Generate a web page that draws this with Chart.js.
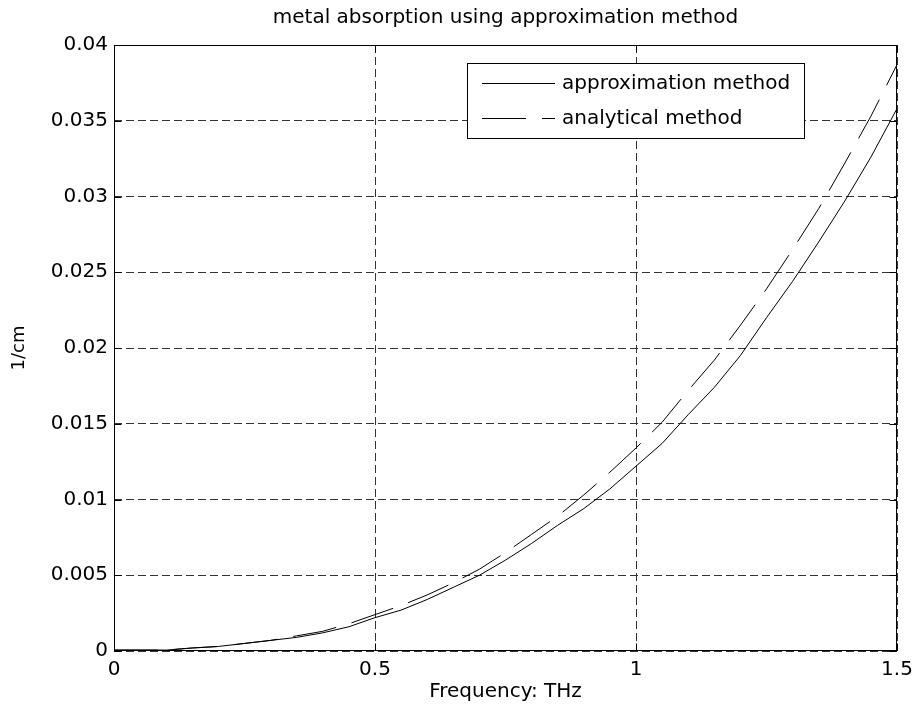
<!DOCTYPE html>
<html>
<head>
<meta charset="utf-8">
<title>metal absorption using approximation method</title>
<script src="https://cdn.jsdelivr.net/npm/chart.js@4.4.0/dist/chart.umd.min.js"></script>
<style>
  html, body { margin: 0; padding: 0; background: #ffffff; }
  canvas { display: block; }
</style>
</head>
<body>
<canvas id="chart" width="917" height="714"></canvas>
<script>
// Frequency grid (THz)
const frequency = [
  0.00, 0.05, 0.10, 0.15, 0.20, 0.25, 0.30, 0.35, 0.40, 0.45,
  0.50, 0.55, 0.60, 0.65, 0.70, 0.75, 0.80, 0.85, 0.90, 0.95,
  1.00, 1.05, 1.10, 1.15, 1.20, 1.25, 1.30, 1.35, 1.40, 1.45, 1.50
];

// Absorption (1/cm), approximation method
const approximation = [
  0.00006, 0.00006, 0.00006, 0.0002, 0.0003, 0.0005, 0.0007, 0.0009, 0.0012, 0.0016,
  0.0022, 0.0027, 0.0034, 0.0042, 0.0050, 0.0060, 0.0071, 0.0083, 0.0094, 0.0107,
  0.0122, 0.0137, 0.0156, 0.0174, 0.0195, 0.0220, 0.0244, 0.0270, 0.0297, 0.0326, 0.0358
];

// Absorption (1/cm), analytical method
const analytical = [
  0.00006, 0.00006, 0.00006, 0.0002, 0.0003, 0.0005, 0.0007, 0.0010, 0.0013, 0.0018,
  0.0024, 0.0030, 0.0037, 0.0045, 0.0054, 0.0065, 0.0077, 0.0089, 0.0103, 0.0118,
  0.0134, 0.0151, 0.0172, 0.0192, 0.0215, 0.0239, 0.0265, 0.0292, 0.0322, 0.0353, 0.0387
];

const seriesNames = ['approximation method', 'analytical method'];
const xTickValues = [0, 0.5, 1, 1.5];
const yTickValues = [0, 0.005, 0.01, 0.015, 0.02, 0.025, 0.03, 0.035, 0.04];

const FONT_FAMILY = '"DejaVu Sans", "Liberation Sans", sans-serif';
const fmt = v => String(+Number(v).toFixed(3));
const toPoints = ys => frequency.map((f, i) => ({ x: f, y: ys[i] }));

// Solid axes box with inward tick marks on all four sides
const axesFrame = {
  id: 'axesFrame',
  afterDraw(chart) {
    const { ctx, chartArea: a, scales } = chart;
    const L = Math.round(a.left) + 0.5, R = Math.round(a.right) - 0.5;
    const T = Math.round(a.top) + 0.5, B = Math.round(a.bottom) - 0.5;
    const len = 7;
    ctx.save();
    ctx.strokeStyle = '#000';
    ctx.lineWidth = 1;
    ctx.setLineDash([]);
    ctx.strokeRect(L, T, R - L, B - T);
    ctx.beginPath();
    xTickValues.forEach(v => {
      const px = Math.round(scales.x.getPixelForValue(v)) + 0.5;
      ctx.moveTo(px, B); ctx.lineTo(px, B - len);
      ctx.moveTo(px, T); ctx.lineTo(px, T + len);
    });
    yTickValues.forEach(v => {
      const py = Math.round(scales.y.getPixelForValue(v)) + 0.5;
      ctx.moveTo(L, py); ctx.lineTo(L + len, py);
      ctx.moveTo(R, py); ctx.lineTo(R - len, py);
    });
    ctx.stroke();
    ctx.restore();
  }
};

// Boxed legend inside the upper right of the axes
const boxedLegend = {
  id: 'boxedLegend',
  afterDraw(chart, args, opts) {
    const { ctx } = chart;
    const { left, top, width, height, lineStart, lineEnd, textX, rowY, rowGap } = opts;
    ctx.save();
    ctx.fillStyle = '#fff';
    ctx.fillRect(left, top, width, height);
    ctx.strokeStyle = '#000';
    ctx.lineWidth = 1;
    ctx.setLineDash([]);
    ctx.strokeRect(left + 0.5, top + 0.5, width, height);
    chart.data.datasets.forEach((ds, i) => {
      const y = rowY + i * rowGap + 0.5;
      ctx.beginPath();
      ctx.setLineDash(ds.borderDash || []);
      ctx.strokeStyle = ds.borderColor;
      ctx.lineWidth = ds.borderWidth;
      ctx.moveTo(lineStart, y);
      ctx.lineTo(lineEnd, y);
      ctx.stroke();
      ctx.setLineDash([]);
      ctx.fillStyle = '#000';
      ctx.font = '20px ' + FONT_FAMILY;
      ctx.textAlign = 'left';
      ctx.textBaseline = 'middle';
      ctx.fillText(ds.label, textX, y);
    });
    ctx.restore();
  }
};

new Chart(document.getElementById('chart'), {
  type: 'line',
  data: {
    datasets: [
      {
        label: seriesNames[0],
        data: toPoints(approximation),
        borderColor: '#000',
        borderWidth: 1,
        pointRadius: 0,
        tension: 0,
        fill: false
      },
      {
        label: seriesNames[1],
        data: toPoints(analytical),
        borderColor: '#000',
        borderWidth: 1,
        borderDash: [44, 16],
        pointRadius: 0,
        tension: 0,
        fill: false
      }
    ]
  },
  options: {
    responsive: false,
    devicePixelRatio: 1,
    animation: false,
    events: [],
    layout: { padding: { left: 0, right: 20, top: 0, bottom: 0 } },
    plugins: {
      legend: { display: false },
      tooltip: { enabled: false },
      title: {
        display: true,
        text: 'metal absorption using approximation method',
        color: '#000',
        fullSize: false,
        font: { family: FONT_FAMILY, size: 20, weight: 'normal' },
        padding: { top: 6, bottom: 15 }
      },
      boxedLegend: {
        left: 467, top: 63, width: 337, height: 75,
        lineStart: 482, lineEnd: 555, textX: 562,
        rowY: 83, rowGap: 35
      }
    },
    scales: {
      x: {
        type: 'linear',
        min: 0,
        max: 1.5,
        afterBuildTicks: s => { s.ticks = xTickValues.map(v => ({ value: v })); },
        afterFit: s => { s.height = 63; s.paddingLeft = 0; s.paddingRight = 0; },
        ticks: {
          color: '#000',
          padding: 7,
          maxRotation: 0,
          font: { family: FONT_FAMILY, size: 20 },
          callback: v => fmt(v)
        },
        grid: { color: '#333', lineWidth: 1, drawTicks: false },
        border: { display: false, dash: [8, 4] },
        title: {
          display: true,
          text: 'Frequency: THz',
          color: '#000',
          font: { family: FONT_FAMILY, size: 20 },
          padding: { top: 0, bottom: 10 }
        }
      },
      y: {
        type: 'linear',
        min: 0,
        max: 0.04,
        afterBuildTicks: s => { s.ticks = yTickValues.map(v => ({ value: v })); },
        afterFit: s => { s.width = 114; },
        ticks: {
          color: '#000',
          padding: 6,
          font: { family: FONT_FAMILY, size: 20 },
          callback: v => fmt(v)
        },
        grid: { color: '#333', lineWidth: 1, drawTicks: false },
        border: { display: false, dash: [8, 4] },
        title: {
          display: true,
          text: '1/cm',
          color: '#000',
          font: { family: FONT_FAMILY, size: 18 },
          padding: { top: 9, bottom: 0 }
        }
      }
    }
  },
  plugins: [axesFrame, boxedLegend]
});
</script>
</body>
</html>
